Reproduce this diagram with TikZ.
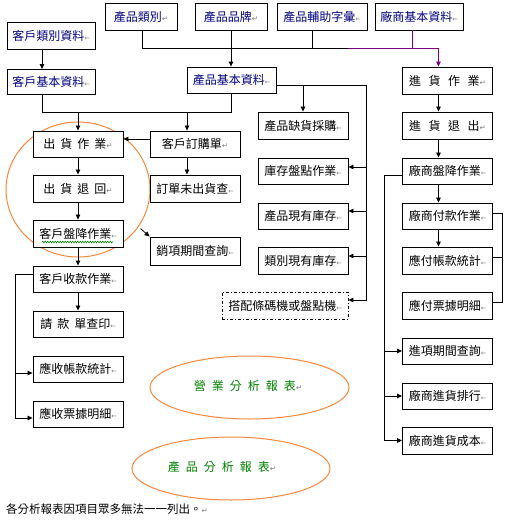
\documentclass[tikz,border=0pt]{standalone}
\usepackage{fontspec}
\setmainfont{Noto Sans CJK TC}
\newfontfamily\cjk{Noto Sans CJK TC}
\newfontfamily\dvs{DejaVu Sans}
\usetikzlibrary{arrows.meta,calc,shapes.geometric,decorations.pathmorphing}
\definecolor{navytext}{RGB}{0,0,128}
\definecolor{orangeln}{RGB}{250,135,60}
\definecolor{greentext}{RGB}{0,128,0}
\definecolor{purpleln}{RGB}{128,0,128}
\definecolor{markgray}{RGB}{128,128,128}
\newcommand{\retmark}{{\dvs\fontsize{7.5}{7.5}\selectfont\textcolor{markgray}{↵}}}
\newcommand{\cellmark}{{\dvs\fontsize{6.5}{6.5}\selectfont\textcolor{markgray}{←}}}
\newcommand{\gsa}{\hspace{5pt}}
\newcommand{\gsb}{\hspace{7.5pt}}
\newcommand{\gsc}{\hspace{6pt}}
\begin{document}
\begin{tikzpicture}[x=1pt,y=-1pt,
  box/.style={draw, line width=0.9pt, fill=white, minimum width=90pt, minimum height=26pt, inner sep=0pt, font=\cjk\fontsize{12}{14}\selectfont},
  navybox/.style={box, text=navytext},
  conn/.style={line width=0.8pt},
  arr/.style={conn, -{Triangle[length=5pt,width=4.5pt]}},
  ell/.style={draw=orangeln, line width=1pt, ellipse, inner sep=0pt},
  elltext/.style={text=greentext, font=\cjk\fontsize{12}{14}\selectfont, inner sep=0pt}]
\useasboundingbox (0,0) rectangle (506,520);

% orange ellipses (behind)
\node[ell, minimum width=144pt, minimum height=135pt] (shipring) at (78,189.5) {};
\node[ell, minimum width=199pt, minimum height=63pt] (salesell) at (249.5,387.5) {};
\node[ell, minimum width=198pt, minimum height=63pt] (prodell) at (231,468.5) {};
\node[elltext] (salestxt) at (248,386) {營\gsc 業\gsc 分\gsc 析\gsc 報\gsc 表\retmark};
\node[elltext] (prodtxt) at (222,467) {產\gsc 品\gsc 分\gsc 析\gsc 報\gsc 表\retmark};

% top row
\node[navybox, minimum width=72pt, minimum height=27pt] (pcat) at (141,16.5) {產品類別\retmark};
\node[navybox, minimum width=72pt, minimum height=27pt] (pbrand) at (231,16.5) {產品品牌\retmark};
\node[navybox, minimum width=90pt, minimum height=27pt] (paux) at (322,16.5) {產品輔助字彙\cellmark};
\node[navybox, minimum width=88pt, minimum height=27pt] (vbase) at (419,16.5) {廠商基本資料\cellmark};
\node[navybox, minimum width=88pt, minimum height=27pt] (ccat) at (51,35.5) {客戶類別資料\cellmark};
\node[navybox, minimum width=88pt, minimum height=25pt] (cbase) at (51,82) {客戶基本資料\cellmark};
\node[navybox, minimum width=89pt, minimum height=26pt] (pbase) at (231.5,80) {產品基本資料\cellmark};

% customer side
\node[box] (ship) at (78,144) {出\gsa 貨\gsa 作\gsa 業\retmark};
\node[box] (cord) at (195,144) {客戶訂購單\retmark};
\node[box, minimum height=27pt] (ret) at (78,188.5) {出\gsa 貨\gsa 退\gsa 回\retmark};
\node[box, minimum height=27pt] (unship) at (195,188.5) {訂單未出貨查\cellmark};
\node[box, minimum height=27pt] (cdisc) at (78,233.5) {客戶盤降作業\cellmark};
\node[box, minimum height=28pt] (salesq) at (195,251) {銷項期間查詢\cellmark};
\node[box] (ccoll) at (78,279) {客戶收款作業\cellmark};
\node[box] (bill) at (78,324) {請\gsa 款\gsa 單查印\cellmark};
\node[box] (arstat) at (78,369) {應收帳款統計\cellmark};
\node[box] (ardet) at (78,414) {應收票據明細\cellmark};

% product side
\node[box, minimum height=27pt] (short) at (303,125.5) {產品缺貨採購\cellmark};
\node[box] (stock) at (303,171) {庫存盤點作業\cellmark};
\node[box] (curinv) at (303,216) {產品現有庫存\cellmark};
\node[box, minimum height=27pt] (catinv) at (303,260.5) {類別現有庫存\cellmark};
\node[box, minimum width=126pt, minimum height=27pt, dash pattern=on 3pt off 2pt on 1pt off 2pt] (scan) at (285,305.5) {搭配條碼機或盤點機\cellmark};

% vendor side
\node[box, minimum height=27pt] (purch) at (447.5,80.5) {進\gsb 貨\gsb 作\gsb 業\retmark};
\node[box, minimum height=27pt] (pret) at (447.5,125.5) {進\gsb 貨\gsb 退\gsb 出\retmark};
\node[box] (vdisc) at (447.5,171) {廠商盤降作業\cellmark};
\node[box] (vpay) at (447.5,216) {廠商付款作業\cellmark};
\node[box, minimum height=27pt] (apstat) at (447.5,260.5) {應付帳款統計\cellmark};
\node[box, minimum height=27pt] (apdet) at (447.5,305.5) {應付票據明細\cellmark};
\node[box] (purq) at (447.5,351) {進項期間查詢\cellmark};
\node[box] (vrank) at (447.5,396) {廠商進貨排行\cellmark};
\node[box, minimum height=27pt] (vcost) at (447.5,440.5) {廠商進貨成本\cellmark};

% spell-check squiggle
\draw[greentext, line width=0.6pt, decorate, decoration={snake, amplitude=0.8pt, segment length=2.5pt}] ($(cdisc.center)+(-36,8.5)$) -- ($(cdisc.center)+(35,8.5)$);

% footer
\node[anchor=west, inner sep=0pt, font=\cjk\fontsize{11.5}{13}\selectfont] (note) at (6,509) {各分析報表因項目眾多無法一一列出。\retmark};

% ---- top connectors
\coordinate (jt) at (348,48);
\draw[conn] ($(pcat.south)+(1,0)$) |- (jt);
\draw[conn] ($(paux.south)+(-10,0)$) |- (jt);
\draw[arr] (pbrand.south) -- (pbrand.south |- pbase.north);
\draw[conn, purpleln] ($(vbase.south)+(-7,0)$) |- (jt);
\coordinate (pa) at ($(purch.north)+(-9,0)$);
\draw[arr, purpleln] (jt) -| (pa);

% ---- customer connectors
\draw[arr] ($(ccat.south)+(-9,0)$) -- ($(cbase.north)+(-9,0)$);
\coordinate (jc) at (231,112);
\draw[conn] ($(cbase.south)+(-9,0)$) |- (jc);
\draw[conn] (pbase.south) |- (jc);
\draw[arr] (ship.north |- jc) -- (ship.north);
\coordinate (ca) at ($(cord.north)+(-8,0)$);
\draw[arr] (ca |- jc) -- (ca);
\draw[arr] ($(cord.west)+(0,-5)$) -- ($(ship.east)+(0,-5)$);
\draw[arr] (ship) -- (ret);
\draw[arr] (ret) -- (cdisc);
\draw[arr] (cdisc) -- (ccoll);
\draw[arr] (ccoll) -- (bill);
\draw[arr] ($(cord.south)+(-8,0)$) -- ($(unship.north)+(-8,0)$);
\draw[arr] ($(salesq.north west)+(-9,-8)$) -- (salesq.north west);
\coordinate (cl) at ($(ccoll.west)+(-17,-5)$);
\draw[conn] ($(ccoll.west)+(0,-5)$) -- (cl);
\draw[arr] (cl) |- ($(arstat.west)+(0,4)$);
\draw[arr] (cl) |- ($(ardet.west)+(0,4)$);

% ---- product connectors
\coordinate (rp) at (366,85);
\draw[conn] ($(pbase.east)+(0,5)$) -- (rp);
\draw[arr] (short.north |- rp) -- (short.north);
\draw[arr] (rp) |- ($(stock.east)+(0,-4)$);
\draw[arr] (rp) |- ($(curinv.east)+(0,-5)$);
\draw[arr] (rp) |- ($(catinv.east)+(0,-4.5)$);
\draw[arr] (rp) |- ($(scan.east)+(0,-5.5)$);

% ---- vendor connectors
\draw[arr] ($(purch.south)+(-9,0)$) -- ($(pret.north)+(-9,0)$);
\draw[arr] ($(pret.south)+(-9,0)$) -- ($(vdisc.north)+(-9,0)$);
\draw[arr] ($(vdisc.south)+(-9,0)$) -- ($(vpay.north)+(-9,0)$);
\draw[arr] ($(vpay.south)+(-9,0)$) -- ($(apstat.north)+(-9,0)$);
\coordinate (vr) at ($(vpay.east)+(9.5,-3)$);
\coordinate (vs) at ($(apstat.east)+(0,-3)$);
\draw[conn] ($(vpay.east)+(0,-3)$) -- (vr) |- ($(apdet.east)+(0,-3)$);
\draw[conn] (vs) -- (vr |- vs);
\coordinate (vl) at ($(vdisc.west)+(-17.5,4)$);
\draw[conn] ($(vdisc.west)+(0,4)$) -- (vl);
\draw[arr] (vl) |- (purq.west);
\draw[arr] (vl) |- (vrank.west);
\draw[arr] (vl) |- (vcost.west);
\end{tikzpicture}
\end{document}
